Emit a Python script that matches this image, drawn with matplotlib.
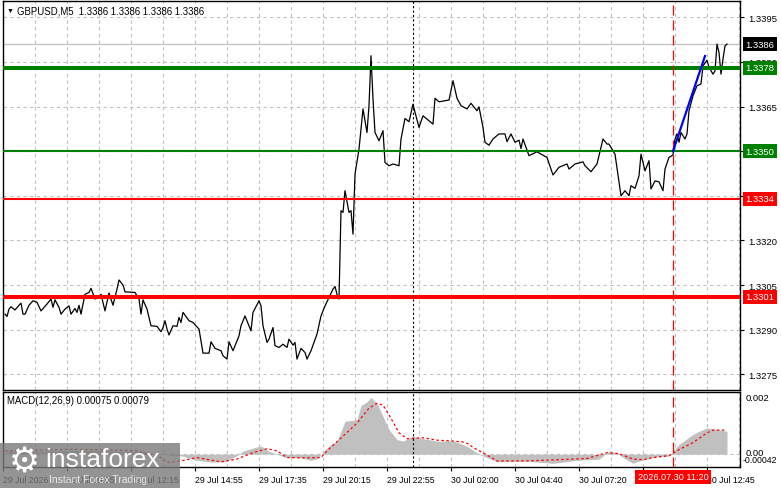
import matplotlib
matplotlib.use("Agg")
import matplotlib.pyplot as plt
from matplotlib.patches import Rectangle

plt.rcParams['font.family'] = ['Liberation Sans', 'DejaVu Sans']

# M5 bar index and close price
bars = [0, 1, 2, 3, 5, 7, 8, 9, 10, 12, 14, 16, 18, 21, 23, 24, 25, 27, 28, 30,
        32, 33, 35, 36, 37, 38, 40, 42, 43, 45, 47, 48, 50, 52, 53, 54, 56, 57, 59, 60,
        65, 67, 68, 69, 71, 73, 76, 78, 79, 80, 81, 82, 84, 86, 87, 88, 89, 92, 94, 97,
        99, 102, 103, 105, 108, 109, 111, 112, 114, 117, 118, 120, 122, 123, 124, 127, 128, 129, 131, 132,
        134, 135, 137, 139, 141, 142, 144, 145, 146, 148, 150, 151, 153, 156, 158, 160, 162, 164, 165, 166,
        167, 168, 169, 170, 172, 173, 174, 175, 177, 178, 179, 181, 182, 183, 184, 185, 187, 189, 190, 192,
        194, 197, 198, 200, 202, 204, 205, 207, 209, 211, 214, 215, 217, 222, 224, 226, 228, 231, 233, 236,
        237, 239, 240, 242, 244, 247, 250, 251, 253, 255, 257, 258, 259, 262, 266, 267, 271, 274, 277, 281,
        282, 285, 289, 290, 293, 296, 299, 301, 302, 305, 307, 308, 310, 312, 313, 315, 317, 318, 320, 322,
        323, 325, 327, 329, 330, 332, 334, 335, 336, 337, 338, 340, 341, 342, 344, 346, 348, 349, 351, 352,
        354, 355, 356, 357, 358, 359, 360, 361]
closes = [1.32952, 1.32944, 1.32969, 1.32977, 1.32966, 1.32982, 1.32989, 1.32952, 1.32952, 1.32982,
          1.32997, 1.32992, 1.32963, 1.32986, 1.33003, 1.32975, 1.33000, 1.32975, 1.32952, 1.32969,
          1.32980, 1.32952, 1.32971, 1.32958, 1.32982, 1.32952, 1.33019, 1.33025, 1.33039, 1.33003,
          1.33008, 1.33019, 1.32963, 1.33023, 1.33003, 1.32982, 1.33036, 1.33067, 1.33050, 1.33027,
          1.33025, 1.33003, 1.32952, 1.33000, 1.32969, 1.32913, 1.32911, 1.32893, 1.32907, 1.32930,
          1.32902, 1.32882, 1.32913, 1.32911, 1.32941, 1.32924, 1.32958, 1.32930, 1.32924, 1.32902,
          1.32821, 1.32821, 1.32859, 1.32837, 1.32829, 1.32812, 1.32801, 1.32859, 1.32829, 1.32879,
          1.32913, 1.32946, 1.32913, 1.32896, 1.32958, 1.32997, 1.32980, 1.32913, 1.32857, 1.32868,
          1.32907, 1.32846, 1.32840, 1.32851, 1.32840, 1.32868, 1.32848, 1.32857, 1.32801, 1.32837,
          1.32823, 1.32801, 1.32829, 1.32885, 1.32946, 1.32980, 1.33008, 1.33036, 1.33045, 1.33019,
          1.33003, 1.33300, 1.33294, 1.33367, 1.33294, 1.33300, 1.33221, 1.33423, 1.33507, 1.33574,
          1.33642, 1.33563, 1.33653, 1.33821, 1.33675, 1.33563, 1.33535, 1.33569, 1.33462, 1.33451,
          1.33457, 1.33451, 1.33541, 1.33610, 1.33599, 1.33658, 1.33631, 1.33580, 1.33619, 1.33608,
          1.33591, 1.33678, 1.33666, 1.33672, 1.33737, 1.33678, 1.33653, 1.33642, 1.33661, 1.33636,
          1.33649, 1.33580, 1.33530, 1.33520, 1.33541, 1.33558, 1.33558, 1.33532, 1.33558, 1.33530,
          1.33537, 1.33509, 1.33541, 1.33485, 1.33498, 1.33494, 1.33479, 1.33420, 1.33446, 1.33457,
          1.33440, 1.33457, 1.33464, 1.33451, 1.33431, 1.33457, 1.33541, 1.33524, 1.33524, 1.33490,
          1.33395, 1.33350, 1.33367, 1.33350, 1.33384, 1.33375, 1.33417, 1.33490, 1.33434, 1.33468,
          1.33373, 1.33400, 1.33397, 1.33367, 1.33440, 1.33479, 1.33487, 1.33541, 1.33558, 1.33530,
          1.33563, 1.33541, 1.33558, 1.33636, 1.33686, 1.33720, 1.33726, 1.33787, 1.33806, 1.33782,
          1.33759, 1.33770, 1.33860, 1.33832, 1.33759, 1.33810, 1.33854, 1.33860]

# MACD main (histogram) and signal
macd_bars = [0, 40, 70, 85, 88, 96, 103, 110, 116, 119, 125, 128, 132, 136, 140, 148, 153, 156, 158, 162,
             166, 168, 170, 176, 178, 181, 183, 186, 189, 192, 196, 199, 204, 209, 216, 224, 229, 232, 237, 241,
             246, 261, 274, 286, 297, 302, 306, 309, 314, 318, 321, 326, 332, 334, 337, 344, 347, 351, 356, 361]
macd_vals = [0.00010, 0.00012, 0.00008, -0.00005, -0.00005, -0.00020, -0.00026, -0.00025, -0.00005, 0.00010,
             0.00022, 0.00027, 0.00010, 0.00000, -0.00010, -0.00012, -0.00020, -0.00015, 0.00000, 0.00027,
             0.00043, 0.00075, 0.00108, 0.00113, 0.00160, 0.00172, 0.00186, 0.00167, 0.00124, 0.00081,
             0.00048, 0.00043, 0.00059, 0.00051, 0.00043, 0.00043, 0.00032, 0.00022, 0.00000, -0.00011,
             -0.00025, -0.00023, -0.00030, -0.00020, -0.00016, 0.00010, 0.00004, -0.00011, -0.00030, -0.00020,
             -0.00016, -0.00008, -0.00006, 0.00010, 0.00032, 0.00065, 0.00075, 0.00086, 0.00081, 0.00075]
signal_bars = [0, 32, 65, 78, 81, 88, 96, 108, 116, 124, 131, 136, 141, 149, 158, 161, 169, 176, 182, 186,
               189, 192, 197, 201, 209, 216, 224, 229, 232, 234, 239, 246, 261, 277, 291, 301, 307, 314, 319, 324,
               332, 337, 344, 351, 354, 361]
signal_vals = [0.00011, 0.00016, 0.00012, -0.00011, -0.00027, -0.00022, -0.00011, -0.00025, -0.00016, 0.00005,
               0.00018, 0.00011, -0.00011, -0.00012, -0.00011, 0.00011, 0.00059, 0.00102, 0.00151, 0.00167,
               0.00161, 0.00129, 0.00070, 0.00051, 0.00054, 0.00046, 0.00043, 0.00040, 0.00033, 0.00022,
               0.00005, -0.00022, -0.00022, -0.00018, -0.00014, 0.00005, 0.00002, -0.00016, -0.00018, -0.00011,
               -0.00005, 0.00015, 0.00038, 0.00070, 0.00079, 0.00079]

price_ticks = [1.3275, 1.3290, 1.3305, 1.3320, 1.3335, 1.3350, 1.3365, 1.3380, 1.3395]
# tick labels hidden under the level boxes are left blank
price_labels = ['1.3275', '1.3290', '1.3305', '1.3320', '', '', '1.3365', '1.3380', '1.3395']
levels = [1.3378, 1.3350, 1.3334, 1.3301]
level_colors = ['#008000', '#008000', '#ff0000', '#ff0000']
level_widths = [2.9, 1.5, 1.5, 2.9]
last_price = 1.3386

grid_bars = list(range(-1, 368, 16))
time_bars = [-1, 31, 63, 95, 127, 159, 191, 223, 255, 287, 319, 351]
time_labels = ['29 Jul 2026', '29 Jul 09:35', '29 Jul 12:15', '29 Jul 14:55', '29 Jul 17:35',
               '29 Jul 20:15', '29 Jul 22:55', '30 Jul 02:00', '30 Jul 04:40', '30 Jul 07:20',
               '', '30 Jul 12:45']
day_sep_bar = 204
cross_bar = 334
cross_label = '2026.07.30 11:20'
trend_bars = [334, 350]
trend_prices = [1.3350, 1.3382]

W, H = 781, 489


def box(left, top, right, bottom):
    return [left / W, 1 - bottom / H, (right - left) / W, (bottom - top) / H]


fig = plt.figure(figsize=(W / 100, H / 100), dpi=100)
ax = fig.add_axes(box(3, 2, 740, 391))
ax2 = fig.add_axes(box(3, 393, 740, 468))

grid_kw = dict(color='#c0c0c0', lw=0.8, ls=(0, (3, 3)), zorder=0)
for a in (ax, ax2):
    a.set_xlim(-1, 367.5)
    for gx in grid_bars:
        a.axvline(gx, **grid_kw)
    for s in a.spines.values():
        s.set_color('black')
        s.set_linewidth(1)

# price panel
ax.set_ylim(1.32697, 1.34005)
for p in price_ticks:
    ax.axhline(p, **grid_kw)
ax.axhline(last_price, color='#c0c0c0', lw=0.9, zorder=1)
ax.plot(bars, closes, color='black', lw=0.9, zorder=2)
for lv, c, w in zip(levels, level_colors, level_widths):
    ax.axhline(lv, color=c, lw=w, zorder=3)
ax.plot(trend_bars, trend_prices, color='#0000ff', lw=1.6, zorder=4)
ax.axvline(day_sep_bar, color='black', lw=0.8, ls=(0, (2, 2)), zorder=3)
ax.axvline(cross_bar, color='#ff0000', lw=0.9, ls=(0, (8, 4)), zorder=3)

ax.yaxis.tick_right()
ax.set_yticks(price_ticks)
ax.set_yticklabels(price_labels)
ax.tick_params(axis='y', length=3, pad=3, labelsize=6.8, direction='out')
ax.tick_params(axis='x', bottom=False, labelbottom=False)

ytr = ax.get_yaxis_transform()
for lv, c in zip(levels, level_colors):
    ax.text(1.0075, lv, '%.4f' % lv, transform=ytr, fontsize=6.8, color='white', va='center',
            ha='left', clip_on=False, zorder=6,
            bbox=dict(boxstyle='square,pad=0.25', fc=c, ec='none'))
ax.text(1.0075, last_price, '%.4f' % last_price, transform=ytr, fontsize=6.8, color='white',
        va='center', ha='left', clip_on=False, zorder=6,
        bbox=dict(boxstyle='square,pad=0.25', fc='black', ec='none'))

# MACD panel
ax2.set_ylim(-0.00042, 0.00204)
ax2.axhline(0, **grid_kw)
ax2.fill_between(macd_bars, 0, macd_vals, color='#c0c0c0', lw=0, zorder=1)
ax2.plot(signal_bars, signal_vals, color='#ff0000', lw=0.9, ls=(0, (2, 2)), zorder=2)
ax2.axvline(day_sep_bar, color='black', lw=0.8, ls=(0, (2, 2)), zorder=3)
ax2.axvline(cross_bar, color='#ff0000', lw=0.9, ls=(0, (8, 4)), zorder=3)
ax2.set_yticks([])
ytr2 = ax2.get_yaxis_transform()
ax2.text(1.0075, 0.00185, '0.002', transform=ytr2, fontsize=6.8, va='center', ha='left')
ax2.text(1.0075, 0.00006, '0.00', transform=ytr2, fontsize=6.8, va='center', ha='left')
ax2.text(1.004, -0.00019, '-0.00042', transform=ytr2, fontsize=6.3, va='center', ha='left')
ax2.text(0.005, 0.9, 'MACD(12,26,9) 0.00075 0.00079', transform=ax2.transAxes, fontsize=6.9,
         va='center', ha='left')

ax2.set_xticks(time_bars)
ax2.set_xticklabels(time_labels)
for t in ax2.get_xticklabels():
    t.set_ha('left')
ax2.tick_params(axis='x', length=3, pad=3, labelsize=6.3, direction='out')
ax2.text(cross_bar, -0.13, cross_label, transform=ax2.get_xaxis_transform(), fontsize=6.6,
         color='white', ha='center', va='center', clip_on=False, zorder=6,
         bbox=dict(boxstyle='square,pad=0.3', fc='#ff0000', ec='none'))

# header
fig.text(7 / W, 1 - 11 / H, '\u25BC', fontsize=5, va='center', ha='left')
fig.text(17 / W, 1 - 11 / H, 'GBPUSD,M5  1.3386 1.3386 1.3386 1.3386', fontsize=6.9,
         va='center', ha='left')

# watermark
fig.patches.append(Rectangle((0, 0), 180 / W, 45 / H, transform=fig.transFigure,
                             fc='#7a7a7a', ec='none', alpha=0.8, zorder=10))
fig.text(24 / W, 1 - 463 / H, '\u2699', fontsize=25, color='white', ha='center', va='center',
         zorder=11, family=['DejaVu Sans'])
fig.text(45 / W, 1 - 460 / H, 'instaforex', fontsize=19, color='white', ha='left',
         va='center', zorder=11)
fig.text(49 / W, 1 - 480 / H, 'Instant Forex Trading', fontsize=7.5, color='#e8e8e8',
         ha='left', va='center', zorder=11)

fig.savefig('out.png', dpi=100)
